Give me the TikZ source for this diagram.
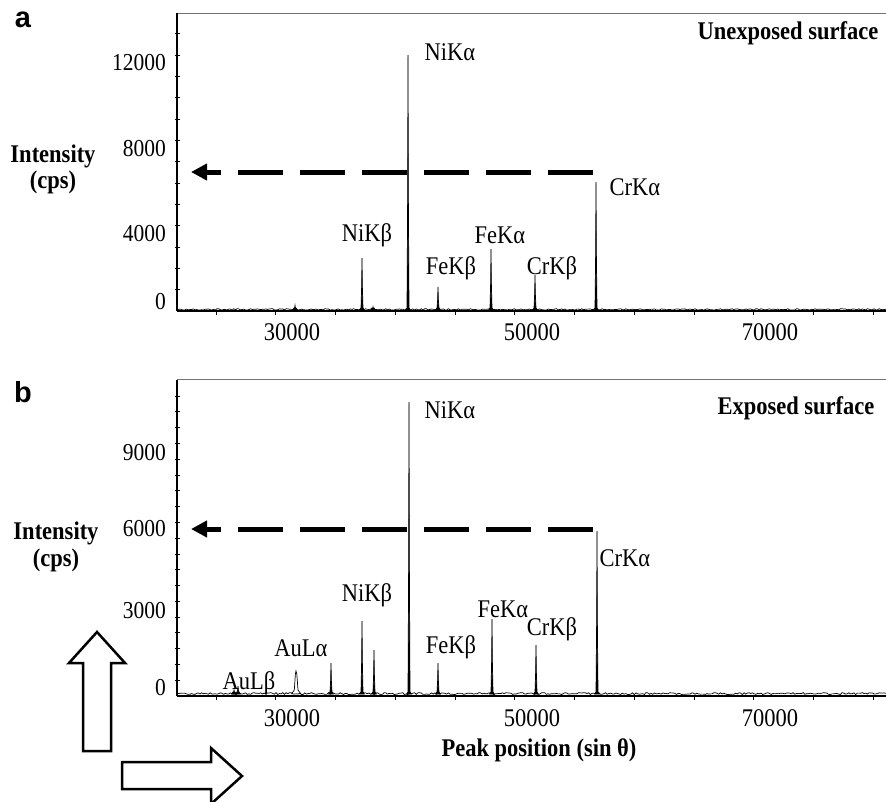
\documentclass[tikz,border=0pt]{standalone}
\usepackage{graphicx}
\usepackage{fontspec}
\setmainfont{Liberation Serif}
\newfontfamily\panelfont{Liberation Sans}
\usetikzlibrary{arrows.meta}
\newcommand\spk[3]{%
  \filldraw[spec] ({#1-2.4},{#2}) -- ({#1-1},{#2-2}) -- ({#1-0.35},{#2-0.45*(#2-#3)}) -- ({#1},{#3})
    -- ({#1+0.35},{#2-0.45*(#2-#3)}) -- ({#1+1},{#2-2}) -- ({#1+2.4},{#2}) -- cycle;}
\newcommand\tx[1]{\scalebox{1}[1.13]{#1}}
\begin{document}
\begin{tikzpicture}[x=1pt,y=-1pt,
  lbl/.style={inner sep=0pt, font=\fontsize{22.5}{24}\selectfont},
  blbl/.style={inner sep=0pt, font=\fontsize{22.5}{24}\selectfont\bfseries},
  tlbl/.style={inner sep=0pt, anchor=east, font=\fontsize{21.5}{24}\selectfont},
  panel/.style={inner sep=0pt, font=\panelfont\bfseries\fontsize{29}{32}\selectfont},
  frameline/.style={draw=black!55, line width=1pt},
  yaxis/.style={line width=1.5pt},
  xaxis/.style={line width=2pt},
  tickmark/.style={line width=0.8pt},
  spec/.style={line width=0.7pt},
  level/.style={line width=5pt, dash pattern=on 45pt off 17pt, -{Triangle[length=16pt,width=16pt]}},
  hollow/.style={draw, line width=2.5pt, fill=white, miter limit=10}
]
\fill[white] (0,0) rectangle (886,801);
\useasboundingbox (0,0) rectangle (886,801);

% ---------------- panel a ----------------
\node[panel] (pa) at (23,19.5) {a};
\draw[frameline] (177,13) -- (886,13);
\draw[yaxis] (177,13) -- (177,311);
\foreach \k in {1,...,13} \draw[tickmark] (174.5,{311-21.33*\k}) -- (180,{311-21.33*\k});
\foreach \k in {0,...,11} \draw[tickmark] ({216+59.75*\k},311) -- ({216+59.75*\k},314.5);
\pgfmathsetseed{7}
\draw[spec] plot[domain=178:886,samples=420] (\x,{309.4+0.7*rand});
\spk{362}{310}{258}
\spk{408}{310}{55}
\spk{438}{310}{287}
\spk{491}{310}{249}
\spk{535}{310}{275}
\spk{596}{310}{182}
\spk{295}{310}{305.5}
\spk{373}{310}{307}
\draw[xaxis] (177,311) -- (886,311);

\node[tlbl] (ya12) at (166,63) {\tx{12000}};
\node[tlbl] (ya8) at (166,149) {\tx{8000}};
\node[tlbl] (ya4) at (166,234) {\tx{4000}};
\node[tlbl] (ya0) at (166,302) {\tx{0}};
\node[lbl] (xa3) at (292,332) {\tx{30000}};
\node[lbl] (xa5) at (532,332) {\tx{50000}};
\node[lbl] (xa7) at (770,332) {\tx{70000}};
\node[blbl] (ia1) at (53,156) {\tx{Intensity}};
\node[blbl] (ia2) at (53,182) {\tx{(cps)}};
\node[blbl] (ta) at (788,33) {\tx{Unexposed surface}};

\node[lbl] (a1) at (450,52) {\tx{NiKα}};
\node[lbl] (a2) at (367,235) {\tx{NiKβ}};
\node[lbl] (a3) at (451,268) {\tx{FeKβ}};
\node[lbl] (a4) at (500,235) {\tx{FeKα}};
\node[lbl] (a5) at (552,268) {\tx{CrKβ}};
\node[lbl] (a6) at (635,187) {\tx{CrKα}};

\coordinate (ra) at (593,172);
\coordinate (la) at (191,172);
\draw[level] (ra) -- (la);

% ---------------- panel b ----------------
\node[panel] (pb) at (23,392) {b};
\draw[frameline] (177,379.5) -- (886,379.5);
\draw[yaxis] (177,379.5) -- (177,696);
\foreach \k in {1,...,19} \draw[tickmark] (174.5,{696-15.79*\k}) -- (180,{696-15.79*\k});
\foreach \k in {0,...,11} \draw[tickmark] ({216+59.75*\k},696) -- ({216+59.75*\k},699.5);
\pgfmathsetseed{11}
\draw[spec] plot[domain=178:886,samples=420] (\x,{693.6+1.0*rand});
\spk{238}{694}{686}
\spk{234}{694}{690}
\draw[spec] (291.5,694) -- (294.3,690) -- (295.4,674) -- (296,671) -- (296.8,674) -- (298,690) -- (301,694);
\spk{331}{694}{663}
\spk{362}{694}{621}
\spk{374}{694}{650}
\spk{409}{694}{402}
\spk{438}{694}{663}
\spk{492}{694}{619}
\spk{536}{694}{645}
\spk{597}{694}{531}
\draw[xaxis] (177,696) -- (886,696);

\node[tlbl] (yb9) at (166,453) {\tx{9000}};
\node[tlbl] (yb6) at (166,529) {\tx{6000}};
\node[tlbl] (yb3) at (166,611) {\tx{3000}};
\node[tlbl] (yb0) at (166,688) {\tx{0}};
\node[lbl] (xb3) at (292,718) {\tx{30000}};
\node[lbl] (xb5) at (532,718) {\tx{50000}};
\node[lbl] (xb7) at (770,718) {\tx{70000}};
\node[blbl] (ib1) at (56,533) {\tx{Intensity}};
\node[blbl] (ib2) at (56,560) {\tx{(cps)}};
\node[blbl] (tb) at (796,408) {\tx{Exposed surface}};
\node[blbl] (xt) at (539,750) {\tx{Peak position (sin θ)}};

\node[lbl] (b1) at (450,410) {\tx{NiKα}};
\node[lbl] (b2) at (367,595) {\tx{NiKβ}};
\node[lbl] (b3) at (451,647) {\tx{FeKβ}};
\node[lbl] (b4) at (503,609) {\tx{FeKα}};
\node[lbl] (b5) at (552,629) {\tx{CrKβ}};
\node[lbl] (b6) at (625,558) {\tx{CrKα}};
\node[lbl] (b7) at (301,648) {\tx{AuLα}};
\node[lbl] (b8) at (249,683) {\tx{AuLβ}};

\coordinate (rb) at (593,529);
\coordinate (lb) at (191,529);
\draw[level] (rb) -- (lb);

% hollow arrows
\draw[hollow] (83,751) -- (83,663) -- (69,663) -- (97,632) -- (125,663) -- (111,663) -- (111,751) -- cycle;
\draw[hollow] (122,762) -- (211,762) -- (211,748) -- (242,776) -- (211,804) -- (211,789) -- (122,789) -- cycle;
\end{tikzpicture}
\end{document}
